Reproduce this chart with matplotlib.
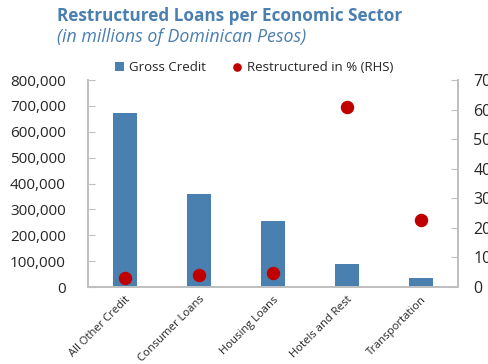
import matplotlib.pyplot as plt
import numpy as np

# Data
sectors      = ['All Other Credit', 'Consumer Loans', 'Housing Loans', 'Hotels and Rest', 'Transportation']
gross_credit = [672000, 360000, 254000, 88000, 35000]
restructured = [3.1, 3.9, 4.6, 61.0, 22.8]

BLUE  = '#4a80b0'
RED   = '#c00000'
GREY  = '#bfbfbf'
TEXT  = '#262626'
TITLE = '#4a7fb0'

plt.rcParams['font.family'] = ['Open Sans', 'DejaVu Sans']

fig = plt.figure(figsize = (4.89, 3.64), dpi = 100)
ax  = fig.add_axes([0.18, 0.2115, 0.7566, 0.5685])
x   = np.arange(len(sectors))

# Bars on left axis
ax.bar(x, gross_credit, width = 0.32, color = BLUE, label = 'Gross Credit', zorder = 2)
ax.set_xlim(-0.5, len(sectors) - 0.5)
ax.set_ylim(0, 800000)
ax.set_yticks(np.arange(0, 800001, 100000))
ax.set_yticklabels([f'{v:,}' for v in range(0, 800001, 100000)])
ax.set_xticks(x)
ax.set_xticklabels(sectors, rotation = 45, ha = 'right', rotation_mode = 'anchor', fontsize = 8.1, color = TEXT)
ax.tick_params(axis = 'x', length = 0, pad = 5)
ax.tick_params(axis = 'y', direction = 'in', length = 5, color = GREY, labelsize = 11, labelcolor = TEXT, pad = 16)

# Dots on right axis
ax2 = ax.twinx()
ax2.scatter(x, restructured, s = 75, color = RED, label = 'Restructured in % (RHS)', zorder = 3)
ax2.set_ylim(0, 70)
ax2.set_yticks(np.arange(0, 71, 10))
ax2.tick_params(axis = 'y', direction = 'in', length = 5, color = GREY, labelsize = 11.5, labelcolor = TEXT, pad = 11)

for a in (ax, ax2):
    a.spines['top'].set_visible(False)
    for side in ('left', 'right', 'bottom'):
        a.spines[side].set_color(GREY)
        a.spines[side].set_linewidth(1.2)

# Legend
h1, l1 = ax.get_legend_handles_labels()
h2, l2 = ax2.get_legend_handles_labels()
fig.legend(h1 + h2, l1 + l2,
           loc            = 'center',
           bbox_to_anchor = (0.52, 0.815),
           ncol           = 2,
           frameon        = False,
           fontsize       = 9.5,
           handlelength   = 0.7,
           handletextpad  = 0.4,
           columnspacing  = 2.0,
           markerscale    = 0.6,
           labelcolor     = TEXT)

fig.text(0.117, 0.955, 'Restructured Loans per Economic Sector',
         fontsize = 12.3, fontweight = 'bold', color = TITLE, va = 'center')
fig.text(0.117, 0.898, '(in millions of Dominican Pesos)',
         fontsize = 12.8, fontstyle = 'italic', color = TITLE, va = 'center')

fig.savefig('out.png', dpi = 100)
